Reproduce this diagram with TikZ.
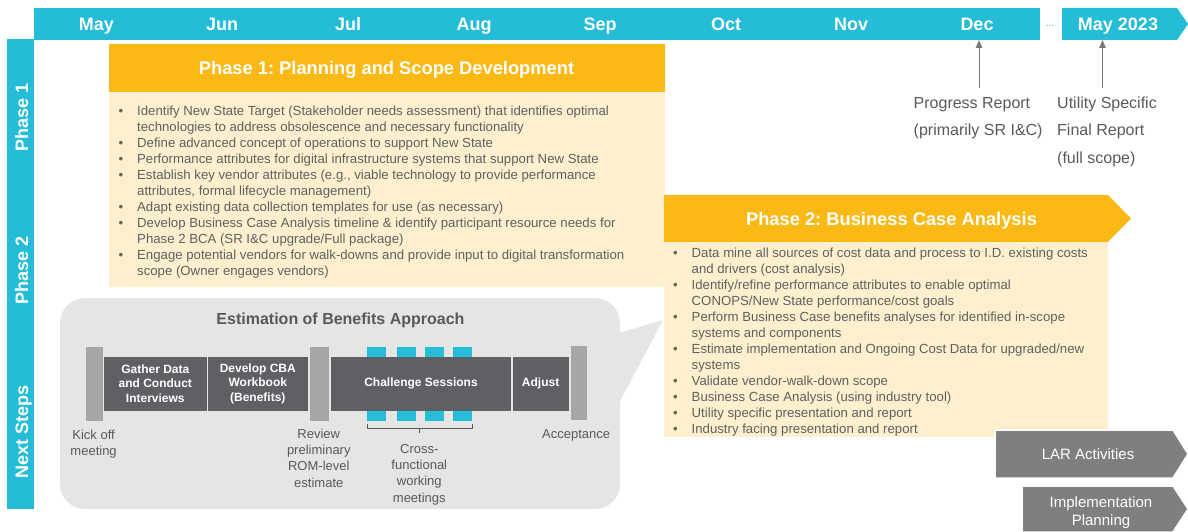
\documentclass[tikz,border=0pt]{standalone}
\usepackage{fontspec}
\setmainfont{Liberation Sans}
\usetikzlibrary{arrows.meta}

\definecolor{tlblue}{RGB}{36,188,214}
\definecolor{phorange}{RGB}{251,185,21}
\definecolor{phcream}{RGB}{254,240,207}
\definecolor{panelgray}{RGB}{229,229,229}
\definecolor{stepdark}{RGB}{95,96,99}
\definecolor{pillargray}{RGB}{166,166,166}
\definecolor{chevgray}{RGB}{127,127,127}
\definecolor{txtgray}{RGB}{89,89,89}
\definecolor{bulgray}{RGB}{96,96,96}
\definecolor{arrgray}{RGB}{120,120,120}

% bullet marker and hanging indent for the task lists
\newcommand\bul{\makebox[18.5pt][l]{\textbullet}}
\newcommand\ind{\hspace*{18.5pt}}

\begin{document}
\frenchspacing
\begin{tikzpicture}[x=1pt,y=-1pt,
  month/.style={anchor=base, inner sep=0, text=white, font=\fontsize{18}{18}\selectfont\bfseries},
  sidelabel/.style={rotate=90, anchor=base, inner sep=0, text=white, font=\fontsize{18}{18}\selectfont\bfseries},
  headtxt/.style={inner sep=0, text height=13pt, text depth=0pt, text=white, font=\fontsize{18.3}{18.3}\selectfont\bfseries},
  tasklist/.style={anchor=north west, inner sep=0, align=left, text=bulgray, font=\fontsize{13.2}{16}\selectfont},
  milestone/.style={anchor=north west, inner sep=0, align=left, text=txtgray, font=\fontsize{16}{27.5}\selectfont},
  steplabel/.style={anchor=north, inner sep=0, align=center, text=txtgray, font=\fontsize{13}{16.2}\selectfont},
  stepbox/.style={fill=stepdark, inner sep=0, align=center, text=white, font=\fontsize{12}{14.3}\selectfont\bfseries},
  pillar/.style={fill=pillargray, inner sep=0, minimum height=74pt},
  chevtxt/.style={inner sep=0, align=center, text=white, font=\fontsize{15}{17.5}\selectfont},
  reparrow/.style={draw=arrgray, line width=1pt, -{Triangle[length=8pt,width=6.5pt]}}
]
\useasboundingbox (0,0) rectangle (1188,532);

% ---- timeline bars
\fill[tlblue] (34,8) rectangle (1040,40);
\fill[tlblue] (1062,8) -- (1177,8) -- (1188,24) -- (1177,40) -- (1062,40) -- cycle;
\fill[tlblue] (7,39) rectangle (34,509);

\node[month] (may)  at (96.5,30.5) {May};
\node[month] (jun)  at (222,30.5) {Jun};
\node[month] (jul)  at (348,30.5) {Jul};
\node[month] (aug)  at (474,30.5) {Aug};
\node[month] (sep)  at (600,30.5) {Sep};
\node[month] (oct)  at (726,30.5) {Oct};
\node[month] (nov)  at (851,30.5) {Nov};
\node[month] (dec)  at (977,30.5) {Dec};
\node[inner sep=0, anchor=base, text=tlblue, font=\fontsize{10}{10}\selectfont] (gap) at (1050,27) {...};
\node[month] (may23) at (1118,30.5) {May 2023};

\node[sidelabel] (lp1) at (28,117.5) {Phase 1};
\node[sidelabel] (lp2) at (28,270) {Phase 2};
\node[sidelabel] (lns) at (28,431.5) {Next Steps};

% ---- Phase 1
\fill[phorange] (109,44) rectangle (664.5,92);
\fill[phcream] (109,92) rectangle (664.5,287);
\node[headtxt] (ph1head) at (386.5,68.5) {Phase 1: Planning and Scope Development};
\node[tasklist] (ph1list) at (118.5,105) {%
\bul\rule{0pt}{10pt}Identify New State Target (Stakeholder needs assessment) that identifies optimal\\
\ind technologies to address obsolescence and necessary functionality\\
\bul Define advanced concept of operations to support New State\\
\bul Performance attributes for digital infrastructure systems that support New State\\
\bul Establish key vendor attributes (e.g., viable technology to provide performance\\
\ind attributes, formal lifecycle management)\\
\bul Adapt existing data collection templates for use (as necessary)\\
\bul Develop Business Case Analysis timeline \& identify participant resource needs for\\
\ind Phase 2 BCA (SR I\&C upgrade/Full package)\\
\bul Engage potential vendors for walk-downs and provide input to digital transformation\\
\ind scope (Owner engages vendors)};

% ---- Estimation of benefits panel with its callout pointer
\fill[panelgray, rounded corners=25pt] (60,298) rectangle (620,509);
\fill[panelgray] (612,335) -- (663,320) -- (618,405) -- cycle;
\node[anchor=base, inner sep=0, text=txtgray, font=\fontsize{16}{16}\selectfont\bfseries] (esttitle) at (340.5,324) {Estimation of Benefits Approach};

\node[pillar, minimum width=17pt] (kick) at (94,383.7) {};
\node[pillar, minimum width=18.6pt] (review) at (319.3,384) {};
\node[pillar, minimum width=16pt] (accept) at (578.5,383) {};

\foreach \x in {366.7,396.7,425,452.7} {
  \fill[tlblue] (\x,346.7) rectangle ++(19,10);
  \fill[tlblue] (\x,410.5) rectangle ++(19,10.2);
}
\node[stepbox, minimum width=103.4pt, minimum height=54pt] (gather) at (155.3,383.6) {Gather Data\\and Conduct\\Interviews};
\node[stepbox, minimum width=99.6pt, minimum height=54pt] (develop) at (257.8,383.6) {Develop CBA\\Workbook\\(Benefits)};
\node[stepbox, minimum width=180pt, minimum height=54pt] (challenge) at (421,383.6) {Challenge Sessions};
\node[stepbox, minimum width=56pt, minimum height=54pt] (adjust) at (540.6,383.6) {Adjust};

% bracket under the working-meeting squares
\coordinate (brl) at (367.3,424);
\coordinate (brr) at (472.7,424);
\coordinate (brm) at (419.5,428.3);
\draw[txtgray, line width=1pt] (brl) -- (brl |- brm) -- (brr |- brm) -- (brr);
\draw[txtgray, line width=1pt] (brm) -- ++(0,4.7);

\node[steplabel] (kicklbl) at (93.6,429.3) {\rule{0pt}{10pt}Kick off\\meeting};
\node[steplabel] (reviewlbl) at (318.8,428.3) {\rule{0pt}{10pt}Review\\preliminary\\ROM-level\\estimate};
\node[steplabel] (crosslbl) at (419.3,443.3) {\rule{0pt}{10pt}Cross-\\functional\\working\\meetings};
\node[steplabel] (acceptlbl) at (576.2,428) {\rule{0pt}{10pt}Acceptance};

% ---- Phase 2
\fill[phorange] (664,195) -- (1108,195) -- (1131,218.5) -- (1108,242) -- (664,242) -- cycle;
\fill[phcream] (664,242) rectangle (1108,437);
\node[headtxt] (ph2head) at (891.5,218.5) {Phase 2: Business Case Analysis};
\node[tasklist] (ph2list) at (673,247.5) {%
\bul\rule{0pt}{10pt}Data mine all sources of cost data and process to I.D. existing costs\\
\ind and drivers (cost analysis)\\
\bul Identify/refine performance attributes to enable optimal\\
\ind CONOPS/New State performance/cost goals\\
\bul Perform Business Case benefits analyses for identified in-scope\\
\ind systems and components\\
\bul Estimate implementation and Ongoing Cost Data for upgraded/new\\
\ind systems\\
\bul Validate vendor-walk-down scope\\
\bul Business Case Analysis (using industry tool)\\
\bul Utility specific presentation and report\\
\bul Industry facing presentation and report};

% ---- report milestones
\node[milestone] (prog) at (913.5,95) {\rule{0pt}{13pt}Progress Report\\(primarily SR I\&C)};
\node[milestone] (final) at (1057,95) {\rule{0pt}{13pt}Utility Specific\\Final Report\\(full scope)};
\coordinate (decfoot) at (979,88);
\coordinate (dectop) at (979,40);
\coordinate (mayfoot) at (1102.5,88);
\coordinate (maytop) at (1102.5,40);
\draw[reparrow] (decfoot) -- (dectop);
\draw[reparrow] (mayfoot) -- (maytop);

% ---- follow-on activities
\filldraw[fill=chevgray, draw=white, line width=1.5pt] (995,430) -- (1173,430) -- (1188,454) -- (1173,478) -- (995,478) -- cycle;
\filldraw[fill=chevgray, draw=white, line width=1.5pt] (1022,486) -- (1173,486) -- (1188,509) -- (1173,532) -- (1022,532) -- cycle;
\node[chevtxt, anchor=base] (lar) at (1088,459.3) {LAR Activities};
\node[chevtxt, anchor=north] (impl) at (1101,496.3) {\rule{0pt}{11pt}Implementation\\Planning};
\end{tikzpicture}
\end{document}
